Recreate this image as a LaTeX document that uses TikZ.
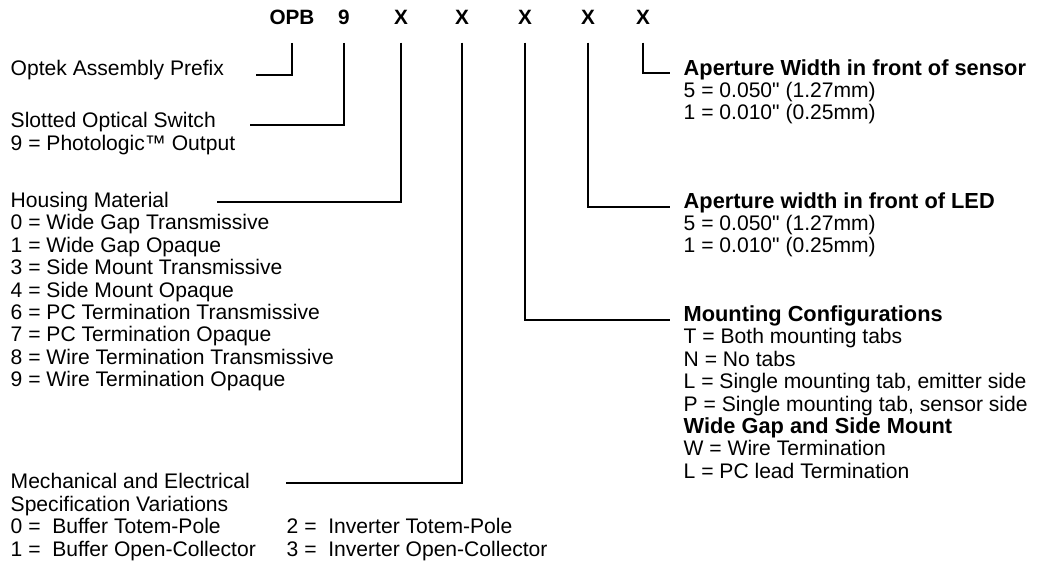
\documentclass[tikz,border=0pt]{standalone}
\usepackage{fontspec}
\setmainfont{Liberation Sans}[Ligatures=TeXOff]
\usetikzlibrary{positioning, calc}

\begin{document}
\begin{tikzpicture}[x=0.02cm, y=-0.02cm, line width=0.8pt]
        \tikzstyle{code} = [font=\fontsize{11.8}{12.8}\selectfont\bfseries, inner xsep=0pt, inner ysep=0.34cm, anchor=base]
        \tikzstyle{txt} = [font=\fontsize{12}{13}\selectfont, inner sep=0pt, anchor=base west]
        \tikzstyle{hdr} = [txt, font=\fontsize{12.4}{13}\selectfont\bfseries]
        \tikzstyle{lead} = [draw=black]

        \useasboundingbox (0,0) rectangle (1045,561);

        % part number
        \node (copb) [code] at (292,25) {OPB};
        \node (c9) [code] at (344,25) {9};
        \foreach \i/\x in {1/401, 2/462, 3/525, 4/588, 5/643} { \node (cx\i) [code] at (\x,25) {X}; }

        % left column
        \node (prefix) [txt] at (10,75.5) {Optek Assembly Prefix};
        \node (slot) [txt] at (10,127.5) {Slotted Optical Switch};
        \node (slot1) [txt] at (10,150.5) {9 = Photologic™ Output};
        \node (house) [txt] at (10,207.5) {Housing Material};
        \foreach \t [count=\k from 1] in {0 = Wide Gap Transmissive, 1 = Wide Gap Opaque, 3 = Side Mount Transmissive, 4 = Side Mount Opaque, 6 = PC Termination Transmissive, 7 = PC Termination Opaque, 8 = Wire Termination Transmissive, 9 = Wire Termination Opaque} { \node (house\k) [txt] at (10,207.5+22.4*\k) {\t}; }
        \node (mech) [txt] at (10,488.5) {Mechanical and Electrical};
        \node (spec) [txt] at (10,511) {Specification Variations};
        \node (mech0) [txt] at (10,533.5) {0 =\ \ Buffer Totem-Pole};
        \node (mech1) [txt] at (10,556) {1 =\ \ Buffer Open-Collector};
        \node (mech2) [txt] at (286,533.5) {2 =\ \ Inverter Totem-Pole};
        \node (mech3) [txt] at (286,556) {3 =\ \ Inverter Open-Collector};

        % right column
        \node (sens) [hdr] at (683,75.5) {Aperture Width in front of sensor};
        \node (sens1) [txt] at (683,97.5) {5 = 0.050" (1.27mm)};
        \node (sens2) [txt] at (683,119.5) {1 = 0.010" (0.25mm)};
        \node (led) [hdr] at (683,208.5) {Aperture width in front of LED};
        \node (led1) [txt] at (683,230.5) {5 = 0.050" (1.27mm)};
        \node (led2) [txt] at (683,252.5) {1 = 0.010" (0.25mm)};
        \node (mount) [hdr] at (683,321.5) {Mounting Configurations};
        \foreach \t [count=\k from 1] in {T = Both mounting tabs, N = No tabs, {L = Single mounting tab, emitter side}, {P = Single mounting tab, sensor side}} { \node (mount\k) [txt] at (683,321.5+22.4*\k) {\t}; }
        \node (wide) [hdr] at (683,433.5) {Wide Gap and Side Mount};
        \node (wide1) [txt] at (683,455.9) {W = Wire Termination};
        \node (wide2) [txt] at (683,478.3) {L = PC lead Termination};

        % leader ends
        \coordinate (eprefix) at (256,75); \coordinate (eslot) at (250,125); \coordinate (ehouse) at (217,202); \coordinate (emech) at (286,483);
        \coordinate (esens) at (670,73); \coordinate (eled) at (670,207); \coordinate (emount) at (670,320);

        % leaders
        \draw [lead] (copb.south) |- (eprefix); \draw [lead] (c9.south) |- (eslot); \draw [lead] (cx1.south) |- (ehouse); \draw [lead] (cx2.south) |- (emech);
        \draw [lead] (cx3.south) |- (emount); \draw [lead] (cx4.south) |- (eled); \draw [lead] (cx5.south) |- (esens);
    \end{tikzpicture}
\end{document}
